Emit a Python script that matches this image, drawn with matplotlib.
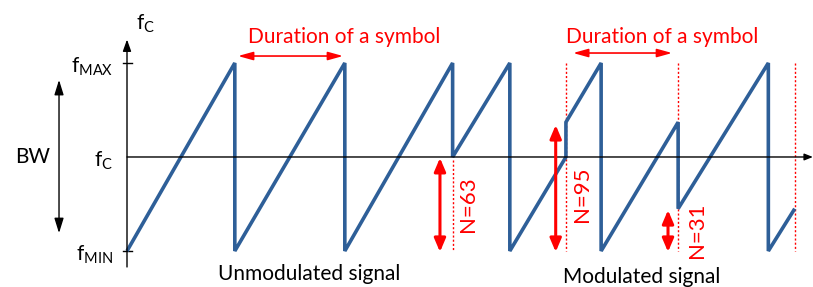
import matplotlib
matplotlib.use("Agg")
import matplotlib.pyplot as plt

plt.rcParams['font.family'] = ['Lato', 'DejaVu Sans']
plt.rcParams['mathtext.fontset'] = 'custom'
plt.rcParams['mathtext.rm'] = 'Lato'
plt.rcParams['mathtext.it'] = 'Lato'

# Waveform vertices: time in symbol durations, frequency normalised (-1=fMIN, 0=fC, 1=fMAX)
t_pts = [0.00, 0.98, 0.98, 1.98, 1.98, 2.96, 2.96, 3.48, 3.48, 3.99, 3.99, 4.31, 4.31,
         5.01, 5.01, 5.83, 5.83, 6.07]
f_pts = [-1.0, 1.0, -1.0, 1.0, -1.0, 1.0, 0.0, 1.0, -1.0, 0.0, 0.37, 1.0, -1.0,
         0.37, -0.55, 1.0, -1.0, -0.55]

# modulated symbol boundaries
bound_t = [2.96, 3.99, 5.01, 6.07]
bound_top = [-0.03, 1.0, 1.0, 1.0]

# symbol values and start offsets
sym_labels = ['N=63', 'N=95', 'N=31']
sym_start_f = [-0.01, 0.34, -0.565]

ytick_labels = [r'$\mathrm{f}_{\mathrm{MAX}}$', r'$\mathrm{f}_{\mathrm{C}}$', r'$\mathrm{f}_{\mathrm{MIN}}$']
ytick_vals = [1.0, 0.0, -1.0]

BLUE = '#2e5f98'
RED = '#ff0000'

fig = plt.figure(figsize=(8.13, 2.87), dpi=100)
ax = fig.add_axes([0, 0, 1, 1])
ax.set_xlim(-1.1545, 6.236)
ax.set_ylim(-1.383, 1.670)
ax.axis('off')

# axes
ax.annotate('', xy=(0, 1.25), xytext=(0, -1.17),
            arrowprops=dict(arrowstyle='-|>,head_length=0.7,head_width=0.25', color='black', lw=1.0,
                            shrinkA=0, shrinkB=0))
ax.annotate('', xy=(6.235, 0), xytext=(0, 0),
            arrowprops=dict(arrowstyle='-|>,head_length=0.5,head_width=0.2', color='black', lw=1.0,
                            shrinkA=0, shrinkB=0))
for v in (1.0, -1.0):
    ax.plot([-0.036, 0.045], [v, v], color='black', lw=1.0)

for lab, v in zip(ytick_labels, ytick_vals):
    ax.text(-0.127, v - 0.04, lab, ha='right', va='center', fontsize=15)
ax.text(0.08, 1.42, r'$\mathrm{f}_{\mathrm{C}}$', ha='left', va='center', fontsize=15)

# BW
ax.text(-0.855, 0, 'BW', ha='center', va='center', fontsize=15)
ax.annotate('', xy=(-0.618, 0.82), xytext=(-0.618, -0.81),
            arrowprops=dict(arrowstyle='<|-|>,head_length=0.9,head_width=0.28', color='black', lw=1.0,
                            shrinkA=0, shrinkB=0))

# dotted boundaries
for bt, top in zip(bound_t, bound_top):
    ax.plot([bt, bt], [top, -1.0], color=RED, lw=1.0, ls=(0, (1.5, 1.5)))

# waveform
ax.plot(t_pts, f_pts, color=BLUE, lw=2.6, solid_joinstyle='miter', solid_capstyle='butt')

# Duration of a symbol
for xc, ya, x0, x1 in ((1.973, 1.074, 1.009, 1.964), (4.864, 1.106, 4.055, 4.955)):
    ax.text(xc, 1.277, 'Duration of a symbol', color=RED, ha='center', va='center', fontsize=15)
    ax.annotate('', xy=(x0, ya), xytext=(x1, ya),
                arrowprops=dict(arrowstyle='<|-|>,head_length=0.9,head_width=0.25', color=RED, lw=1.2,
                                shrinkA=0, shrinkB=0))

# symbol arrows
arrow_x = [2.845, 3.897, 4.918]
text_x = [3.10, 4.136, 5.18]
text_y = [-0.50, -0.394, -0.777]
for lab, sf, ax_, tx, ty in zip(sym_labels, sym_start_f, arrow_x, text_x, text_y):
    ax.annotate('', xy=(ax_, sf), xytext=(ax_, -1.01),
                arrowprops=dict(arrowstyle='<|-|>,head_length=0.4,head_width=0.17', color=RED, lw=2.2,
                                shrinkA=0, shrinkB=0, mutation_scale=20))
    ax.text(tx, ty, lab, color=RED, rotation=90, ha='center', va='center', fontsize=16)

ax.text(1.655, -1.245, 'Unmodulated signal', ha='center', va='center', fontsize=15)
ax.text(4.682, -1.277, 'Modulated signal', ha='center', va='center', fontsize=15)

fig.savefig('out.png', dpi=100)
